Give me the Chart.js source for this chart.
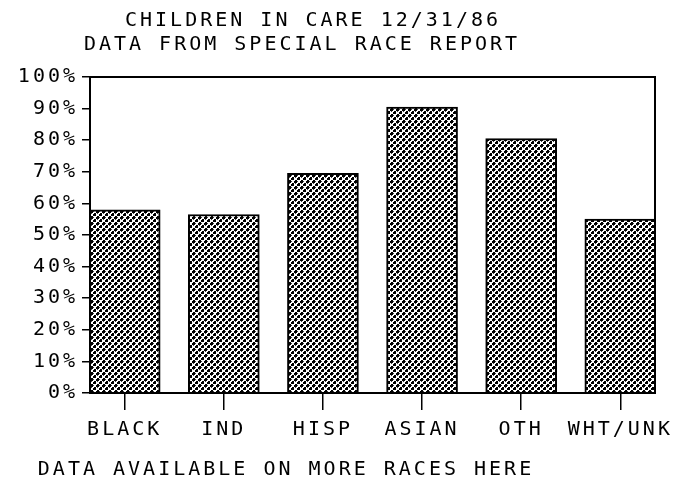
<!DOCTYPE html>
<html>
<head>
<meta charset="utf-8">
<script src="https://cdn.jsdelivr.net/npm/chart.js@4"></script>
<style>
  body { margin: 0; background: #fff; }
  #wrap { width: 683px; height: 486px; }
</style>
</head>
<body>
<div id="wrap"><canvas id="raceChart"></canvas></div>
<script>
var titleLines = ['CHILDREN IN CARE 12/31/86', 'DATA FROM SPECIAL RACE REPORT'];
var footerText = 'DATA AVAILABLE ON MORE RACES HERE';
var races = ['BLACK', 'IND', 'HISP', 'ASIAN', 'OTH', 'WHT/UNK'];
var percentInCare = [58, 56.5, 69.5, 90.5, 80.5, 55];
var yTicks = [0, 10, 20, 30, 40, 50, 60, 70, 80, 90, 100];

var FONT = 'DejaVu Sans Mono';
var SPACING = '3px';

function makeDots() {
    var c = document.createElement('canvas');
    c.width = 6;
    c.height = 6;
    var g = c.getContext('2d');
    g.fillStyle = '#fff';
    g.fillRect(0, 0, 6, 6);
    g.fillStyle = '#000';
    g.fillRect(0, 0, 3, 3);
    g.fillRect(3, 3, 3, 3);
    g.fillStyle = '#fff';
    g.fillRect(0, 0, 1, 1);
    g.fillRect(3, 3, 1, 1);
    g.fillStyle = '#444';
    g.fillRect(3, 1, 1, 1);
    g.fillRect(1, 3, 1, 1);
    return g.createPattern(c, 'repeat');
}

var spacingPlugin = {
    id: 'spacing',
    beforeLayout: function (chart) { chart.ctx.letterSpacing = SPACING; },
    beforeDraw: function (chart) { chart.ctx.letterSpacing = SPACING; }
};

var framePlugin = {
    id: 'frame',
    afterDatasetsDraw: function (chart) {
        var a = chart.chartArea;
        var ctx = chart.ctx;
        ctx.save();
        ctx.strokeStyle = '#000';
        ctx.lineWidth = 2;
        ctx.strokeRect(a.left, a.top, a.right - a.left, a.bottom - a.top);
        ctx.restore();
    },
    afterDraw: function (chart) {
        var ctx = chart.ctx;
        ctx.save();
        ctx.letterSpacing = SPACING;
        ctx.fillStyle = '#000';
        ctx.font = '20px "' + FONT + '"';
        ctx.textAlign = 'center';
        ctx.textBaseline = 'middle';
        ctx.fillText(titleLines[0], 313, 21);
        ctx.fillText(titleLines[1], 302, 45);
        ctx.fillText(footerText, 286, 470);
        ctx.restore();
    }
};

var points = percentInCare.map(function (v, i) { return { x: i, y: v }; });

new Chart(document.getElementById('raceChart'), {
    type: 'bar',
    data: {
        datasets: [{
            data: points,
            backgroundColor: makeDots(),
            borderColor: '#000',
            borderWidth: 2,
            barThickness: 71
        }]
    },
    options: {
        responsive: true,
        maintainAspectRatio: false,
        animation: false,
        layout: { padding: { top: 77, right: 28, left: 0, bottom: 0 } },
        plugins: {
            legend: { display: false },
            title: { display: false },
            tooltip: { enabled: false }
        },
        scales: {
            x: {
                type: 'linear',
                offset: false,
                min: -0.35,
                max: 5.35,
                afterBuildTicks: function (scale) {
                    scale.ticks = races.map(function (r, i) { return { value: i }; });
                },
                afterFit: function (scale) { scale.height = 93; },
                ticks: {
                    autoSkip: false,
                    maxRotation: 0,
                    padding: 8,
                    color: '#000',
                    font: { family: FONT, size: 20 },
                    callback: function (v) { return races[v]; }
                },
                grid: { offset: false, drawOnChartArea: false, tickLength: 17, color: '#000', lineWidth: 1.5 },
                border: { color: '#000', width: 2 }
            },
            y: {
                min: 0,
                max: 100,
                afterBuildTicks: function (scale) {
                    scale.ticks = yTicks.map(function (v) { return { value: v }; });
                },
                afterFit: function (scale) { scale.width = 90; },
                ticks: {
                    padding: 4,
                    color: '#000',
                    font: { family: FONT, size: 20 },
                    callback: function (v) { return v + '%'; }
                },
                grid: { drawOnChartArea: false, tickLength: 8, color: '#000', lineWidth: 1.5 },
                border: { color: '#000', width: 2 }
            }
        }
    },
    plugins: [spacingPlugin, framePlugin]
});
</script>
</body>
</html>
